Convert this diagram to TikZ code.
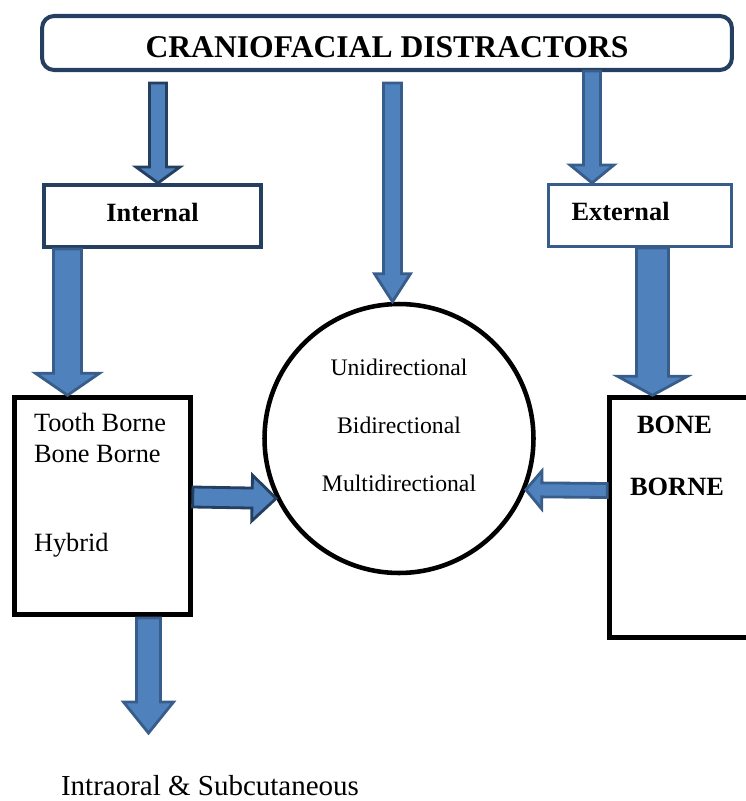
\documentclass[tikz,border=0pt]{standalone}
\usepackage{fontspec}
\setmainfont{Liberation Serif}
\usetikzlibrary{calc, positioning}

\definecolor{navy}{RGB}{36,63,96}
\definecolor{midblue}{RGB}{56,93,138}
\definecolor{arrowfill}{RGB}{79,129,189}

% block arrow: [border]{from}{to}{shaft half width}{head half width}{head length}, in px
\newcommand{\blockarrow}[6][midblue]{%
  \coordinate (bh) at ($(#3)!#6*0.02cm!(#2)$);
  \filldraw[draw=#1, fill=arrowfill, line width=1.6pt]
    ($(#2)!#4*0.02cm!90:(#3)$) -- ($(bh)!#4*0.02cm!90:(#3)$) -- ($(bh)!#5*0.02cm!90:(#3)$) -- (#3)
    -- ($(bh)!#5*0.02cm!-90:(#3)$) -- ($(bh)!#4*0.02cm!-90:(#3)$) -- ($(#2)!#4*0.02cm!-90:(#3)$) -- cycle;}

\begin{document}
\begin{tikzpicture}[x=0.02cm, y=-0.02cm]
    \tikzstyle{titlebox} = [draw=navy, line width=2.3pt, rounded corners=0.24cm, minimum width=13.8cm, minimum height=1.08cm, text height=16.5pt, font=\fontsize{18}{21}\selectfont\bfseries]
    \tikzstyle{kind} = [rectangle, line width=2.3pt, minimum height=1.24cm, text depth=4.5pt, font=\fontsize{15}{18}\selectfont\bfseries]
    \tikzstyle{group} = [rectangle, draw, line width=2.6pt, inner sep=0pt]
    \tikzstyle{lbl} = [inner sep=0pt, font=\fontsize{13.5}{16}\selectfont]
    \tikzstyle{bold} = [inner sep=0pt, font=\fontsize{15}{18}\selectfont\bfseries]

    \useasboundingbox (0,0) rectangle (746,801);
    \clip (0,0) rectangle (746,801);

    % Define nodes
    \node[titlebox] (title) at (387,43) {CRANIOFACIAL DISTRACTORS};
    \node[kind, draw=navy, minimum width=4.34cm] (internal) at (152.5,216) {Internal};
    \node[kind, draw=midblue, line width=1.8pt, text width=2.74cm, inner xsep=0.46cm, align=left] (external) at (640,215.5) {External};
    \node[group, minimum width=3.52cm, minimum height=4.34cm] (devices) at (102.5,506)
        {\parbox[c][3.72cm][t]{2.74cm}{\fontsize{15}{18}\selectfont\raggedright
         Tooth Borne\\Bone Borne\\[32.5pt]Hybrid}};
    \node[circle, draw, line width=2.6pt, minimum size=5.38cm, inner sep=0pt] (hub) at (399,438.5) {};
    \node[group, minimum width=3.41cm, minimum height=4.8cm] (boneborne) at (694.75,517.5) {};

    % Define labels
    \node[lbl] (uni) at ($(hub)+(0,-71.5)$) {Unidirectional};
    \node[lbl] (bi) at ($(hub)+(0,-13.5)$) {Bidirectional};
    \node[lbl] (multi) at ($(hub)+(0,44.5)$) {Multidirectional};
    \node[bold] (bone) at (674.5,425) {BONE};
    \node[bold] (borne) at (677,487) {BORNE};
    \node[inner sep=0pt, font=\fontsize{16.5}{19}\selectfont] (route) at (210,786) {Intraoral \& Subcutaneous};

    % Arrow ends
    \coordinate (s1) at (158,83);
    \coordinate (t1) at (s1 |- internal.north);
    \coordinate (s2) at (392.5,83);
    \coordinate (t2) at (s2 |- hub.north);
    \coordinate (s3) at (592,71);
    \coordinate (t3) at (s3 |- external.north);
    \coordinate (s4) at (67.5,249);
    \coordinate (t4) at (s4 |- devices.north);
    \coordinate (s5) at (652.5,248);
    \coordinate (t5) at (s5 |- boneborne.north);
    \coordinate (s6) at ([yshift=0.18cm]devices.east);
    \coordinate (s7) at ([yshift=0.54cm]boneborne.west);
    \coordinate (s8) at (148.5,618);
    \coordinate (t8) at (148.5,733);

    % Draw block arrows
    \blockarrow[navy]{s1}{t1}{8.5}{22}{16}
    \blockarrow{s2}{t2}{9}{18}{28}
    \blockarrow{s3}{t3}{8.5}{22}{18}
    \blockarrow{s4}{t4}{14}{32}{22}
    \blockarrow{s5}{t5}{16}{35}{19}
    \blockarrow[navy]{s6}{hub.206}{10}{23}{24}
    \blockarrow{s7}{hub.338}{7}{19}{16}
    \blockarrow{s8}{t8}{12}{25}{31}
\end{tikzpicture}
\end{document}
